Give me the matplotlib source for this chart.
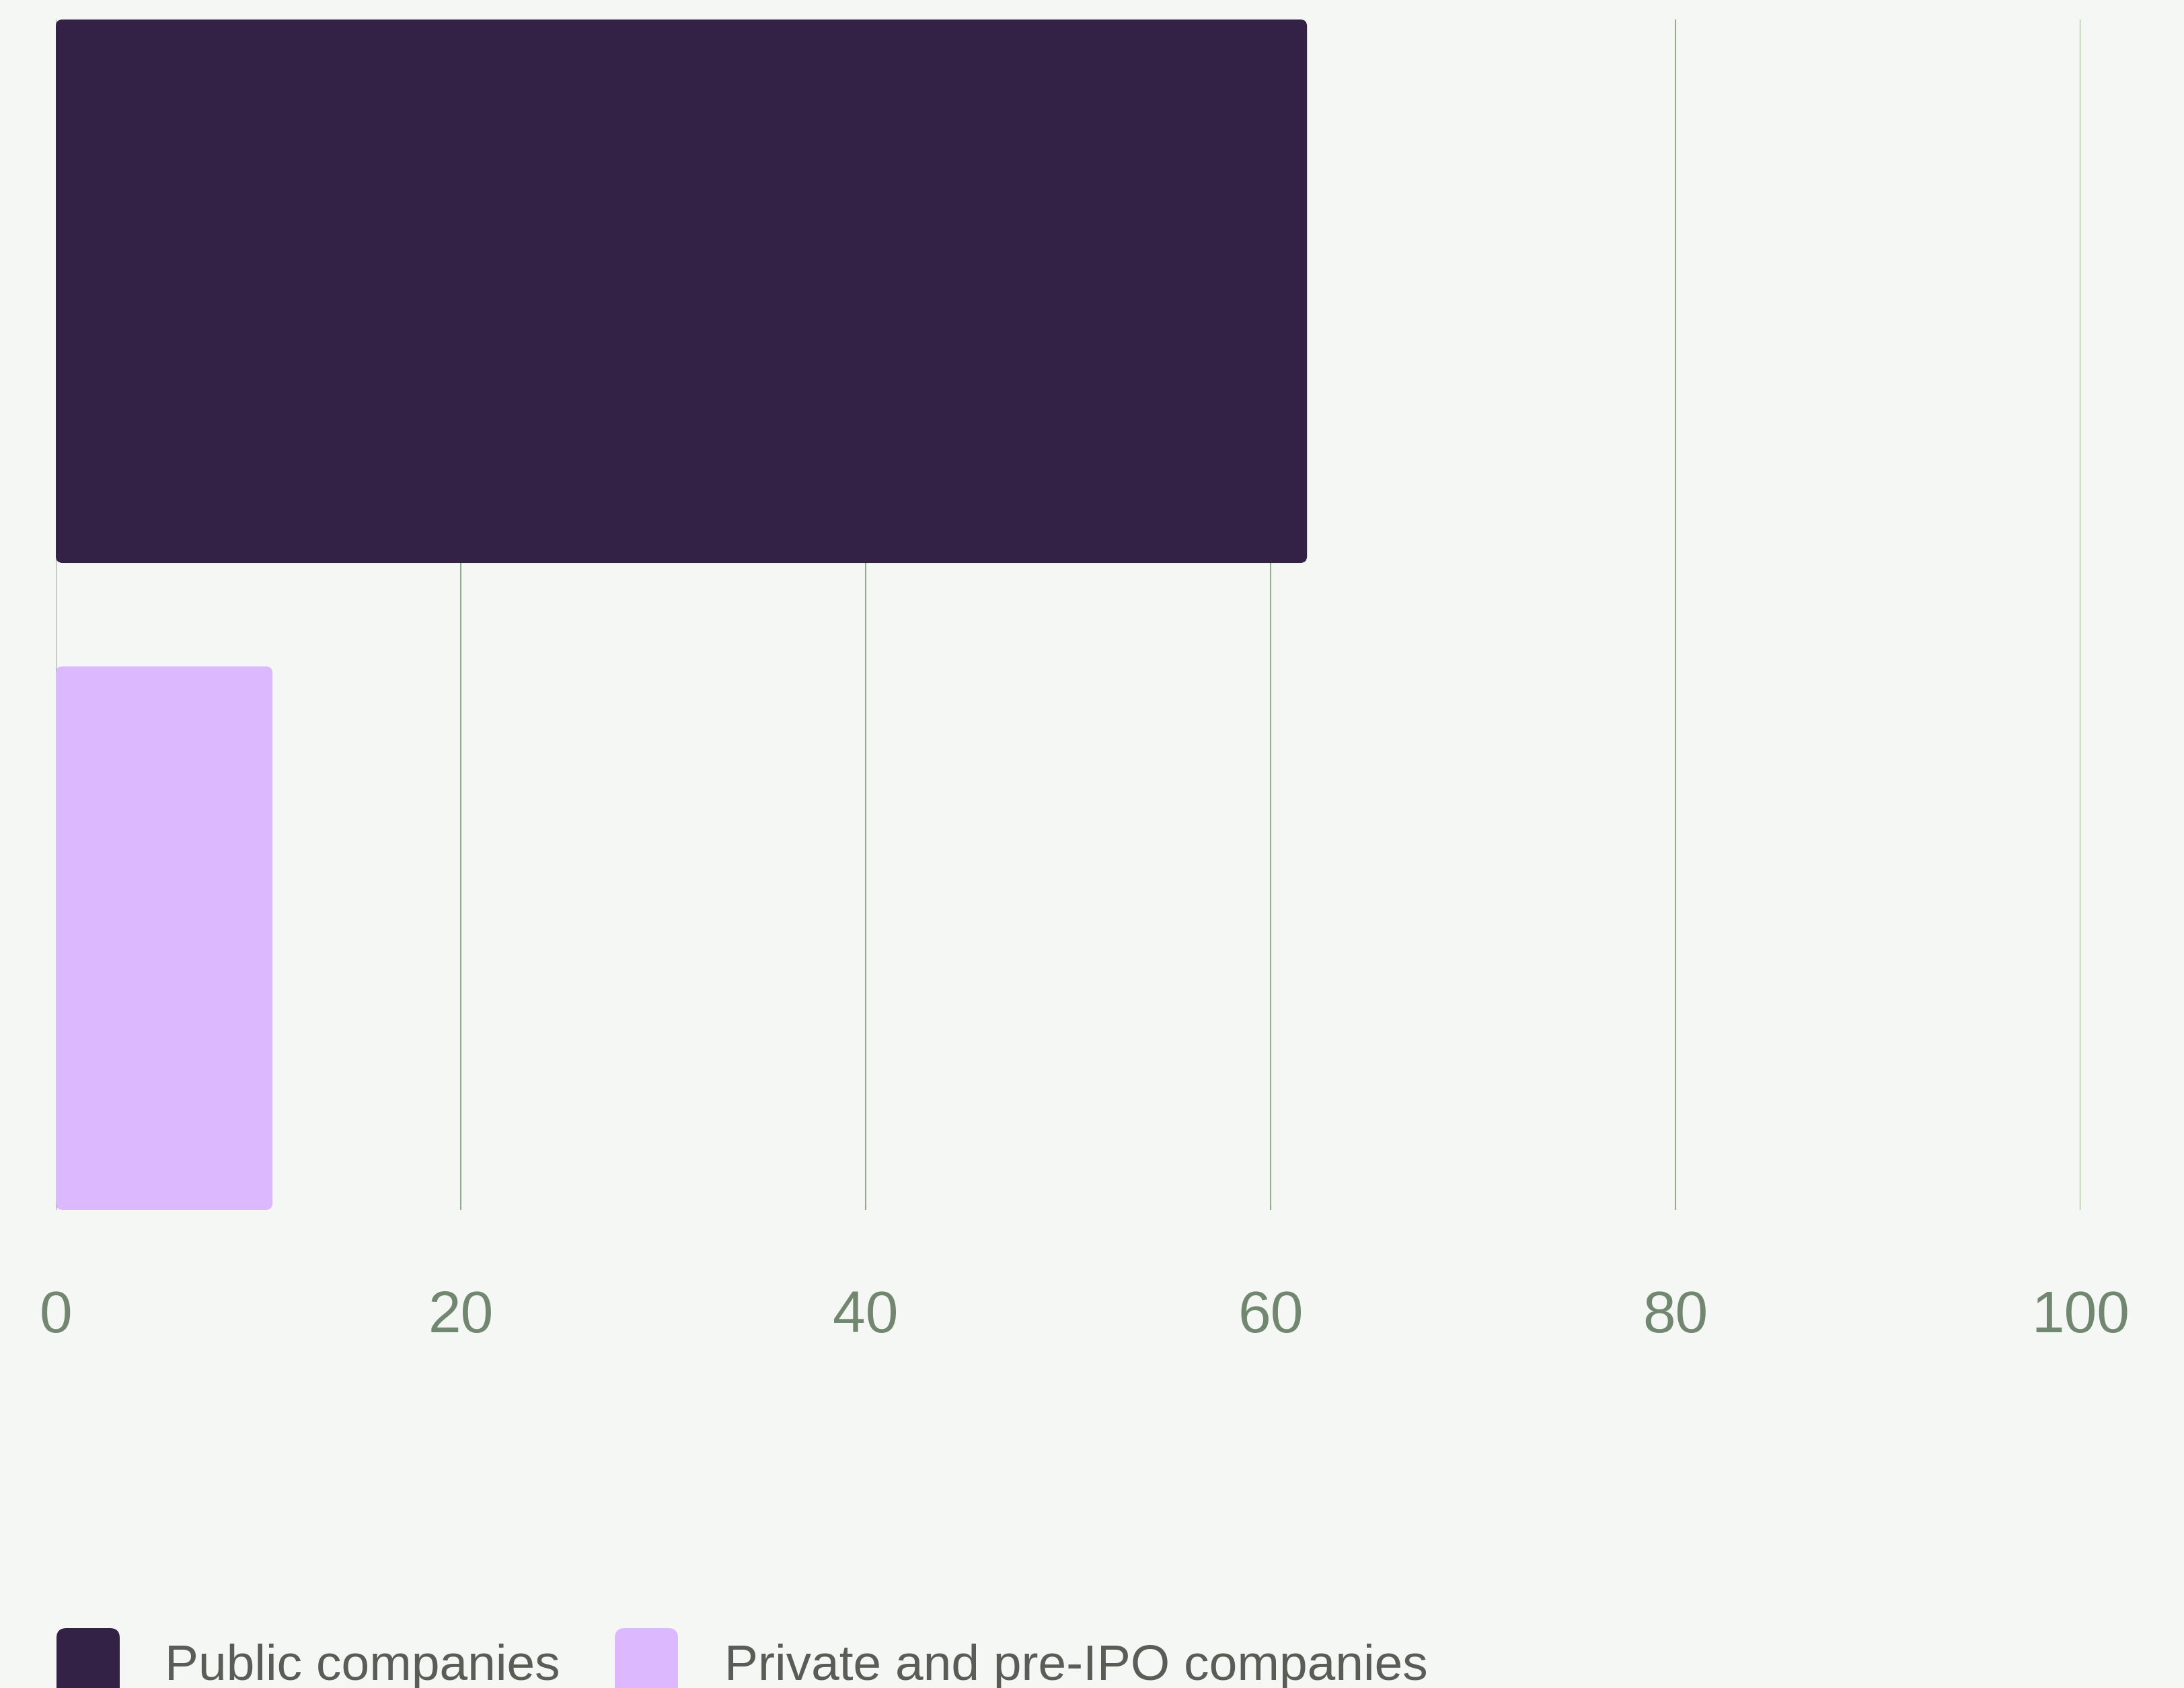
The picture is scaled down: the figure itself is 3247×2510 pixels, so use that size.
import matplotlib
matplotlib.use("Agg")
import matplotlib.pyplot as plt
from matplotlib.patches import FancyBboxPatch

# data
categories = ["Public companies", "Private and pre-IPO companies"]
values = [61.8, 10.7]
bar_colors = ["#332146", "#dcb8fe"]
x_ticks = [0, 20, 40, 60, 80, 100]

BG = "#f5f7f4"
GRID = "#93ad8d"
TICK_TXT = "#728770"
LEGEND_TXT = "#595d55"

W, H = 3248, 2510
fig = plt.figure(figsize=(W / 100, H / 100), dpi=100, facecolor=BG)
plt.rcParams["font.family"] = ["Liberation Sans", "DejaVu Sans"]

ax = fig.add_axes([83 / W, 1 - 1799 / H, (3093 - 83) / W, (1799 - 29) / H])
ax.set_facecolor(BG)

ypos = list(range(len(categories)))
bars = ax.barh(ypos, values, height=0.84, color=bar_colors)
ax.set_xlim(0, 100)
ax.set_ylim(len(categories) - 1 + 0.42, -0.42)

# swap the plain rectangles for rounded ones
px_x = (3093 - 83) / 100
px_y = (1799 - 29) / 1.84
for rect in bars.patches:
    x0, y0 = rect.get_xy()
    rounded = FancyBboxPatch(
        (x0, y0), rect.get_width(), rect.get_height(),
        boxstyle="round,pad=0,rounding_size=0.33",
        mutation_aspect=px_x / px_y,
        facecolor=rect.get_facecolor(), edgecolor="none", zorder=3,
    )
    ax.add_patch(rounded)
    rect.remove()

ax.set_xticks(x_ticks)
ax.set_xticklabels([str(t) for t in x_ticks])
ax.set_yticks([])
ax.grid(axis="x", color=GRID, linewidth=1.5, zorder=0)
ax.set_axisbelow(True)
ax.tick_params(axis="x", length=0, pad=86, labelsize=63, colors=TICK_TXT)
for side in ax.spines.values():
    side.set_visible(False)

# legend along the bottom edge
legend_items = [(84, 245), (914, 1077)]
for (sq_x, txt_x), name, col in zip(legend_items, categories, bar_colors):
    fig.patches.append(FancyBboxPatch(
        (sq_x / W, 1 - 2560 / H), 94 / W, (2560 - 2421) / H,
        boxstyle="round,pad=0,rounding_size=0.0045",
        mutation_aspect=W / H,
        transform=fig.transFigure, facecolor=col, edgecolor="none",
    ))
    fig.text(txt_x / W, 1 - 2498 / H, name, fontsize=54,
             color=LEGEND_TXT, ha="left", va="baseline")

fig.savefig("out.png", dpi=100, facecolor=BG)
